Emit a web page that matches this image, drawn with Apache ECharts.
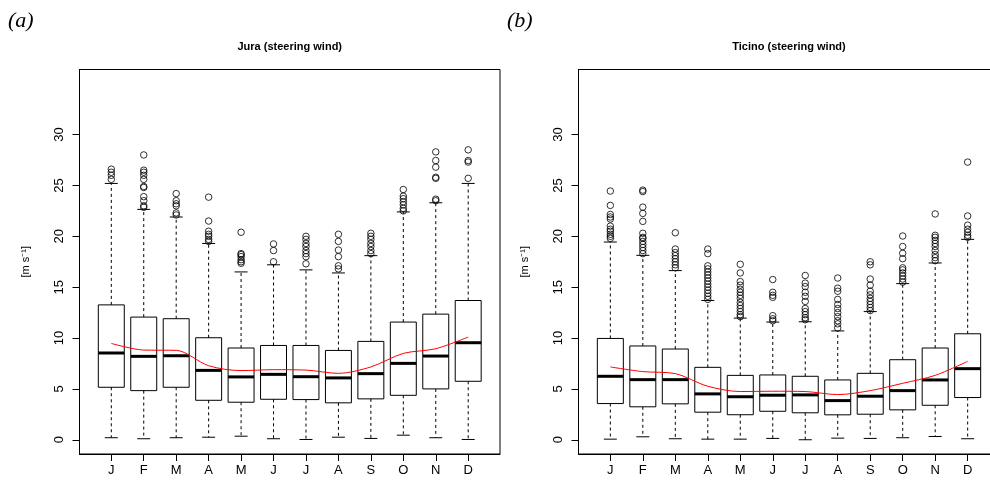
<!DOCTYPE html>
<html>
<head>
<meta charset="utf-8">
<script src="https://cdn.jsdelivr.net/npm/echarts@6/dist/echarts.min.js"></script>
<style>
html,body{margin:0;padding:0;background:#fff;}
#c{width:990px;height:483px;}
</style>
</head>
<body>
<div id="c"></div>
<script>
// ---------- data ----------
const months = ['J','F','M','A','M','J','J','A','S','O','N','D'];
const yTicks = [0, 5, 10, 15, 20, 25, 30];

// Jura (steering wind)
const juraLow  = [0.2, 0.1, 0.2, 0.25, 0.35, 0.1, 0.03, 0.25, 0.13, 0.45, 0.2, 0.03];
const juraQ1   = [5.16, 4.83, 5.16, 3.88, 3.69, 3.98, 3.95, 3.63, 4.02, 4.37, 5.0, 5.75];
const juraMed  = [8.53, 8.2, 8.26, 6.82, 6.18, 6.43, 6.2, 6.08, 6.5, 7.51, 8.23, 9.54];
const juraQ3   = [13.26, 12.06, 11.9, 10.03, 9.02, 9.27, 9.27, 8.78, 9.67, 11.57, 12.35, 13.69];
const juraHigh = [25.2, 22.65, 21.9, 19.3, 16.5, 17.2, 16.7, 16.4, 18.1, 22.4, 23.3, 25.2];
const juraMean = [9.47, 8.82, 8.79, 7.28, 6.8, 6.89, 6.85, 6.53, 7.16, 8.49, 8.95, 10.1];
const juraOut  = [
  [25.6, 26.0, 26.3, 26.6],
  [22.85, 23.0, 23.5, 23.9, 24.8, 24.9, 25.6, 26.0, 26.3, 26.5, 28.0],
  [22.1, 22.3, 23.0, 23.2, 23.5, 24.2],
  [19.5, 19.7, 20.0, 20.2, 20.5, 21.5, 23.85],
  [17.35, 17.5, 17.7, 18.0, 18.2, 18.3, 20.4],
  [17.5, 18.6, 19.25],
  [17.3, 18.0, 18.3, 18.6, 19.0, 19.3, 19.7, 20.0],
  [16.8, 17.1, 18.0, 18.65, 19.5, 20.2],
  [18.3, 18.6, 19.0, 19.3, 19.7, 20.0, 20.3],
  [22.5, 22.75, 23.1, 23.4, 23.7, 23.95, 24.6],
  [23.5, 23.65, 25.7, 25.8, 26.8, 27.45, 28.3],
  [25.7, 27.3, 27.45, 28.5]
];

// Ticino (steering wind)
const ticLow  = [0.06, 0.29, 0.1, 0.06, 0.06, 0.13, 0.0, 0.16, 0.13, 0.2, 0.32, 0.1];
const ticQ1   = [3.56, 3.24, 3.53, 2.71, 2.46, 2.8, 2.65, 2.45, 2.51, 2.94, 3.39, 4.15];
const ticMed  = [6.24, 5.91, 5.91, 4.51, 4.23, 4.38, 4.41, 3.85, 4.28, 4.83, 5.88, 6.99];
const ticQ3   = [9.96, 9.22, 8.92, 7.12, 6.33, 6.37, 6.24, 5.88, 6.53, 7.87, 9.02, 10.42];
const ticHigh = [19.44, 18.13, 16.63, 13.69, 11.96, 11.57, 11.6, 10.7, 12.6, 15.35, 17.38, 19.7];
const ticMean = [7.16, 6.7, 6.5, 5.26, 4.74, 4.77, 4.74, 4.44, 4.83, 5.55, 6.33, 7.71];
const ticOut  = [
  [19.8, 20.0, 20.2, 20.5, 20.7, 21.0, 21.7, 21.9, 22.15, 23.04, 24.45],
  [18.3, 18.6, 18.9, 19.2, 19.5, 19.8, 19.9, 20.3, 21.47, 22.25, 22.87, 24.4, 24.54],
  [16.9, 17.2, 17.5, 17.8, 18.1, 18.4, 18.75, 20.35],
  [13.8, 14.1, 14.4, 14.7, 15.0, 15.3, 15.6, 15.9, 16.2, 16.5, 16.8, 17.1, 18.3, 18.75],
  [12.1, 12.3, 12.6, 12.9, 13.2, 13.5, 13.9, 14.2, 14.5, 14.8, 15.2, 15.55, 16.4, 17.25],
  [11.7, 11.9, 12.2, 14.0, 14.2, 14.5, 15.75],
  [11.8, 12.0, 12.3, 12.6, 12.9, 13.6, 14.1, 14.5, 15.06, 15.4, 16.15],
  [11.0, 11.4, 11.7, 12.1, 12.5, 12.9, 13.3, 13.8, 14.6, 14.9, 15.9],
  [12.7, 13.0, 13.3, 13.6, 13.9, 14.25, 14.6, 15.2, 15.8, 17.2, 17.5],
  [15.5, 15.8, 16.1, 16.4, 16.7, 16.9, 17.8, 18.33, 19.0, 20.03],
  [17.6, 17.9, 18.2, 18.6, 19.0, 19.3, 19.6, 19.9, 20.1, 22.2],
  [19.9, 20.1, 20.4, 20.7, 21.1, 22.0, 27.3]
];

const titles = ['Jura (steering wind)', 'Ticino (steering wind)'];
const panelTags = ['(a)', '(b)'];
const yName = '[m s\u207B\u00B9]';

// ---------- chart ----------
const FONT = '"Liberation Sans", Arial, Helvetica, sans-serif';
const chart = echarts.init(document.getElementById('c'), null, {renderer: 'canvas'});

function boxData(lo, q1, md, q3, hi) {
  return months.map((m, i) => [i + 1, lo[i], q1[i], md[i], q3[i], hi[i]]);
}
function outData(out) {
  const d = [];
  out.forEach((arr, i) => arr.forEach(v => d.push([i + 1, v])));
  return d;
}
function meanData(mean) {
  return mean.map((v, i) => [i + 1, v]);
}

function renderBox(params, api) {
  const x = api.value(0);
  const lo = api.coord([x, api.value(1)]);
  const q1 = api.coord([x, api.value(2)]);
  const md = api.coord([x, api.value(3)]);
  const q3 = api.coord([x, api.value(4)]);
  const hi = api.coord([x, api.value(5)]);
  const bw = api.size([0.8, 0])[0];
  const cx = lo[0];
  const ln = (x1, y1, x2, y2, extra) => ({
    type: 'line',
    shape: {x1, y1, x2, y2},
    style: Object.assign({stroke: '#000', lineWidth: 1}, extra || {})
  });
  return {
    type: 'group',
    children: [
      ln(cx, q3[1], cx, hi[1], {lineDash: [3, 3]}),
      ln(cx, q1[1], cx, lo[1], {lineDash: [3, 3]}),
      ln(cx - bw / 4, hi[1], cx + bw / 4, hi[1]),
      ln(cx - bw / 4, lo[1], cx + bw / 4, lo[1]),
      {type: 'rect', shape: {x: cx - bw / 2, y: q3[1], width: bw, height: q1[1] - q3[1]},
       style: {fill: 'none', stroke: '#000', lineWidth: 1}},
      ln(cx - bw / 2, md[1], cx + bw / 2, md[1], {lineWidth: 3})
    ]
  };
}

const grids = [
  {left: 79.5, top: 69.5, width: 420.5, height: 384.5},
  {left: 578.5, top: 69.5, width: 421, height: 384.5}
].map(g => Object.assign(g, {show: true, borderColor: '#000', borderWidth: 1, backgroundColor: 'transparent',
  containLabel: false, outerBoundsMode: 'none'}));

function xAxis(gi) {
  return {
    type: 'value', gridIndex: gi, min: 0.02, max: 12.98,
    axisLine: {show: true, onZero: false, lineStyle: {color: '#000', width: 1}},
    axisTick: {show: true, length: 7, customValues: months.map((m, i) => i + 1), lineStyle: {color: '#000'}},
    axisLabel: {show: true, customValues: months.map((m, i) => i + 1), margin: 10,
      formatter: v => months[Math.round(v) - 1], color: '#000', fontSize: 13, fontFamily: FONT},
    splitLine: {show: false}
  };
}
function yAxis(gi) {
  return {
    type: 'value', gridIndex: gi, min: -1.4, max: 36.4,
    name: yName, nameLocation: 'middle', nameRotate: 90, nameGap: 48,
    nameTextStyle: {color: '#000', fontSize: 11, fontFamily: FONT},
    axisLine: {show: true, onZero: false, lineStyle: {color: '#000', width: 1}},
    axisTick: {show: true, length: 7, customValues: yTicks, lineStyle: {color: '#000'}},
    axisLabel: {show: true, customValues: yTicks, rotate: 90, margin: 14, color: '#000', fontSize: 13, fontFamily: FONT},
    splitLine: {show: false}
  };
}

const panels = [
  {lo: juraLow, q1: juraQ1, md: juraMed, q3: juraQ3, hi: juraHigh, mean: juraMean, out: juraOut},
  {lo: ticLow, q1: ticQ1, md: ticMed, q3: ticQ3, hi: ticHigh, mean: ticMean, out: ticOut}
];

const series = [];
panels.forEach((p, gi) => {
  series.push({
    type: 'custom', xAxisIndex: gi, yAxisIndex: gi,
    renderItem: renderBox, data: boxData(p.lo, p.q1, p.md, p.q3, p.hi),
    encode: {x: 0, y: [1, 2, 3, 4, 5]}, z: 2, silent: true
  });
  series.push({
    type: 'scatter', xAxisIndex: gi, yAxisIndex: gi, data: outData(p.out),
    symbol: 'circle', symbolSize: 6.5,
    itemStyle: {color: 'rgba(0,0,0,0)', borderColor: '#000', borderWidth: 1}, z: 3, silent: true
  });
  series.push({
    type: 'line', xAxisIndex: gi, yAxisIndex: gi, data: meanData(p.mean),
    showSymbol: false, smooth: 0.3, lineStyle: {color: '#ff0000', width: 1}, z: 4, silent: true
  });
});

const graphic = [];
grids.forEach((g, gi) => {
  graphic.push({
    type: 'text', x: g.left + g.width / 2, y: 47,
    style: {text: titles[gi], font: 'bold 11px ' + FONT, fill: '#000', align: 'center', verticalAlign: 'middle'}
  });
});
graphic.push({type: 'text', x: 8, y: 21,
  style: {text: panelTags[0], font: 'italic 22px "Liberation Serif", "Times New Roman", serif', fill: '#000', align: 'left', verticalAlign: 'middle'}});
graphic.push({type: 'text', x: 507, y: 21,
  style: {text: panelTags[1], font: 'italic 22px "Liberation Serif", "Times New Roman", serif', fill: '#000', align: 'left', verticalAlign: 'middle'}});

chart.setOption({
  animation: false,
  backgroundColor: '#fff',
  grid: grids,
  xAxis: [xAxis(0), xAxis(1)],
  yAxis: [yAxis(0), yAxis(1)],
  series: series,
  graphic: graphic
});
</script>
</body>
</html>
